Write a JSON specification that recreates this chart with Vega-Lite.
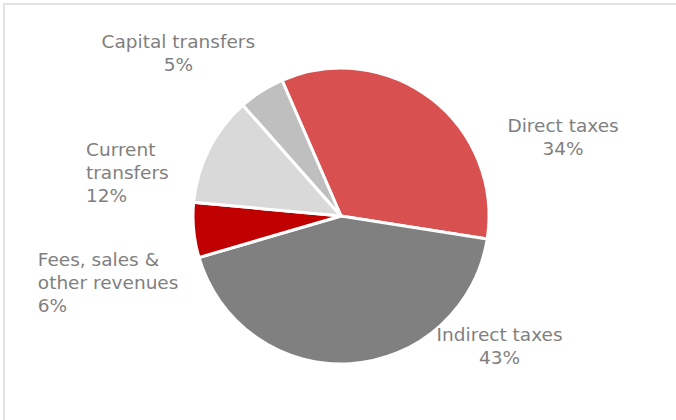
{
  "$schema": "https://vega.github.io/schema/vega-lite/v6.json",
  "width": 674,
  "height": 424,
  "autosize": {"type": "none"},
  "padding": {"left": 4, "top": 4, "right": -2, "bottom": -8},
  "background": "white",
  "view": {"stroke": "#d9d9d9", "strokeWidth": 1.5, "fill": "white"},
  "data": {
    "values": [
      {"category": "Direct taxes", "label": "Direct taxes\n34%", "share": 34, "order": 1},
      {"category": "Indirect taxes", "label": "Indirect taxes\n43%", "share": 43, "order": 2},
      {"category": "Fees, sales & other revenues", "label": "Fees, sales &\nother revenues\n6%", "share": 6, "order": 3},
      {"category": "Current transfers", "label": "Current\ntransfers\n12%", "share": 12, "order": 4},
      {"category": "Capital transfers", "label": "Capital transfers\n5%", "share": 5, "order": 5}
    ]
  },
  "transform": [
    {"stack": "share", "groupby": [], "sort": [{"field": "order", "order": "ascending"}], "as": ["s0", "s1"]},
    {"calculate": "(datum.s0 + datum.s1) / 2", "as": "mid"}
  ],
  "resolve": {"scale": {"theta": "shared"}},
  "layer": [
    {
      "mark": {"type": "arc", "outerRadius": 148, "stroke": "white", "strokeWidth": 3},
      "encoding": {
        "theta": {"field": "s0", "type": "quantitative", "scale": {"domain": [0, 100], "range": [-0.41, 5.8732]}},
        "theta2": {"field": "s1"},
        "color": {
          "field": "category",
          "type": "nominal",
          "legend": null,
          "scale": {
            "domain": ["Direct taxes", "Indirect taxes", "Fees, sales & other revenues", "Current transfers", "Capital transfers"],
            "range": ["#d95050", "#808080", "#c00000", "#d9d9d9", "#bfbfbf"]
          }
        }
      }
    },
    {
      "transform": [{"filter": "datum.order == 1"}],
      "mark": {"type": "text", "radius": 180, "dx": 112, "dy": 52, "align": "center", "baseline": "middle", "lineBreak": "\n", "lineHeight": 23, "font": "DejaVu Sans", "fontSize": 18.5, "color": "#7f7f7f"},
      "encoding": {"theta": {"field": "mid", "type": "quantitative"}, "text": {"field": "label"}}
    },
    {
      "transform": [{"filter": "datum.order == 2"}],
      "mark": {"type": "text", "radius": 180, "dx": 147, "dy": -61, "align": "center", "baseline": "middle", "lineBreak": "\n", "lineHeight": 23, "font": "DejaVu Sans", "fontSize": 18.5, "color": "#7f7f7f"},
      "encoding": {"theta": {"field": "mid", "type": "quantitative"}, "text": {"field": "label"}}
    },
    {
      "transform": [{"filter": "datum.order == 3"}],
      "mark": {"type": "text", "radius": 180, "dx": -124, "dy": 26.5, "align": "left", "baseline": "middle", "lineBreak": "\n", "lineHeight": 23, "font": "DejaVu Sans", "fontSize": 18.5, "color": "#7f7f7f"},
      "encoding": {"theta": {"field": "mid", "type": "quantitative"}, "text": {"field": "label"}}
    },
    {
      "transform": [{"filter": "datum.order == 4"}],
      "mark": {"type": "text", "radius": 180, "dx": -94.5, "dy": 15.4, "align": "left", "baseline": "middle", "lineBreak": "\n", "lineHeight": 23, "font": "DejaVu Sans", "fontSize": 18.5, "color": "#7f7f7f"},
      "encoding": {"theta": {"field": "mid", "type": "quantitative"}, "text": {"field": "label"}}
    },
    {
      "transform": [{"filter": "datum.order == 5"}],
      "mark": {"type": "text", "radius": 180, "dx": -66, "dy": -22.5, "align": "center", "baseline": "middle", "lineBreak": "\n", "lineHeight": 23, "font": "DejaVu Sans", "fontSize": 18.5, "color": "#7f7f7f"},
      "encoding": {"theta": {"field": "mid", "type": "quantitative"}, "text": {"field": "label"}}
    }
  ]
}
